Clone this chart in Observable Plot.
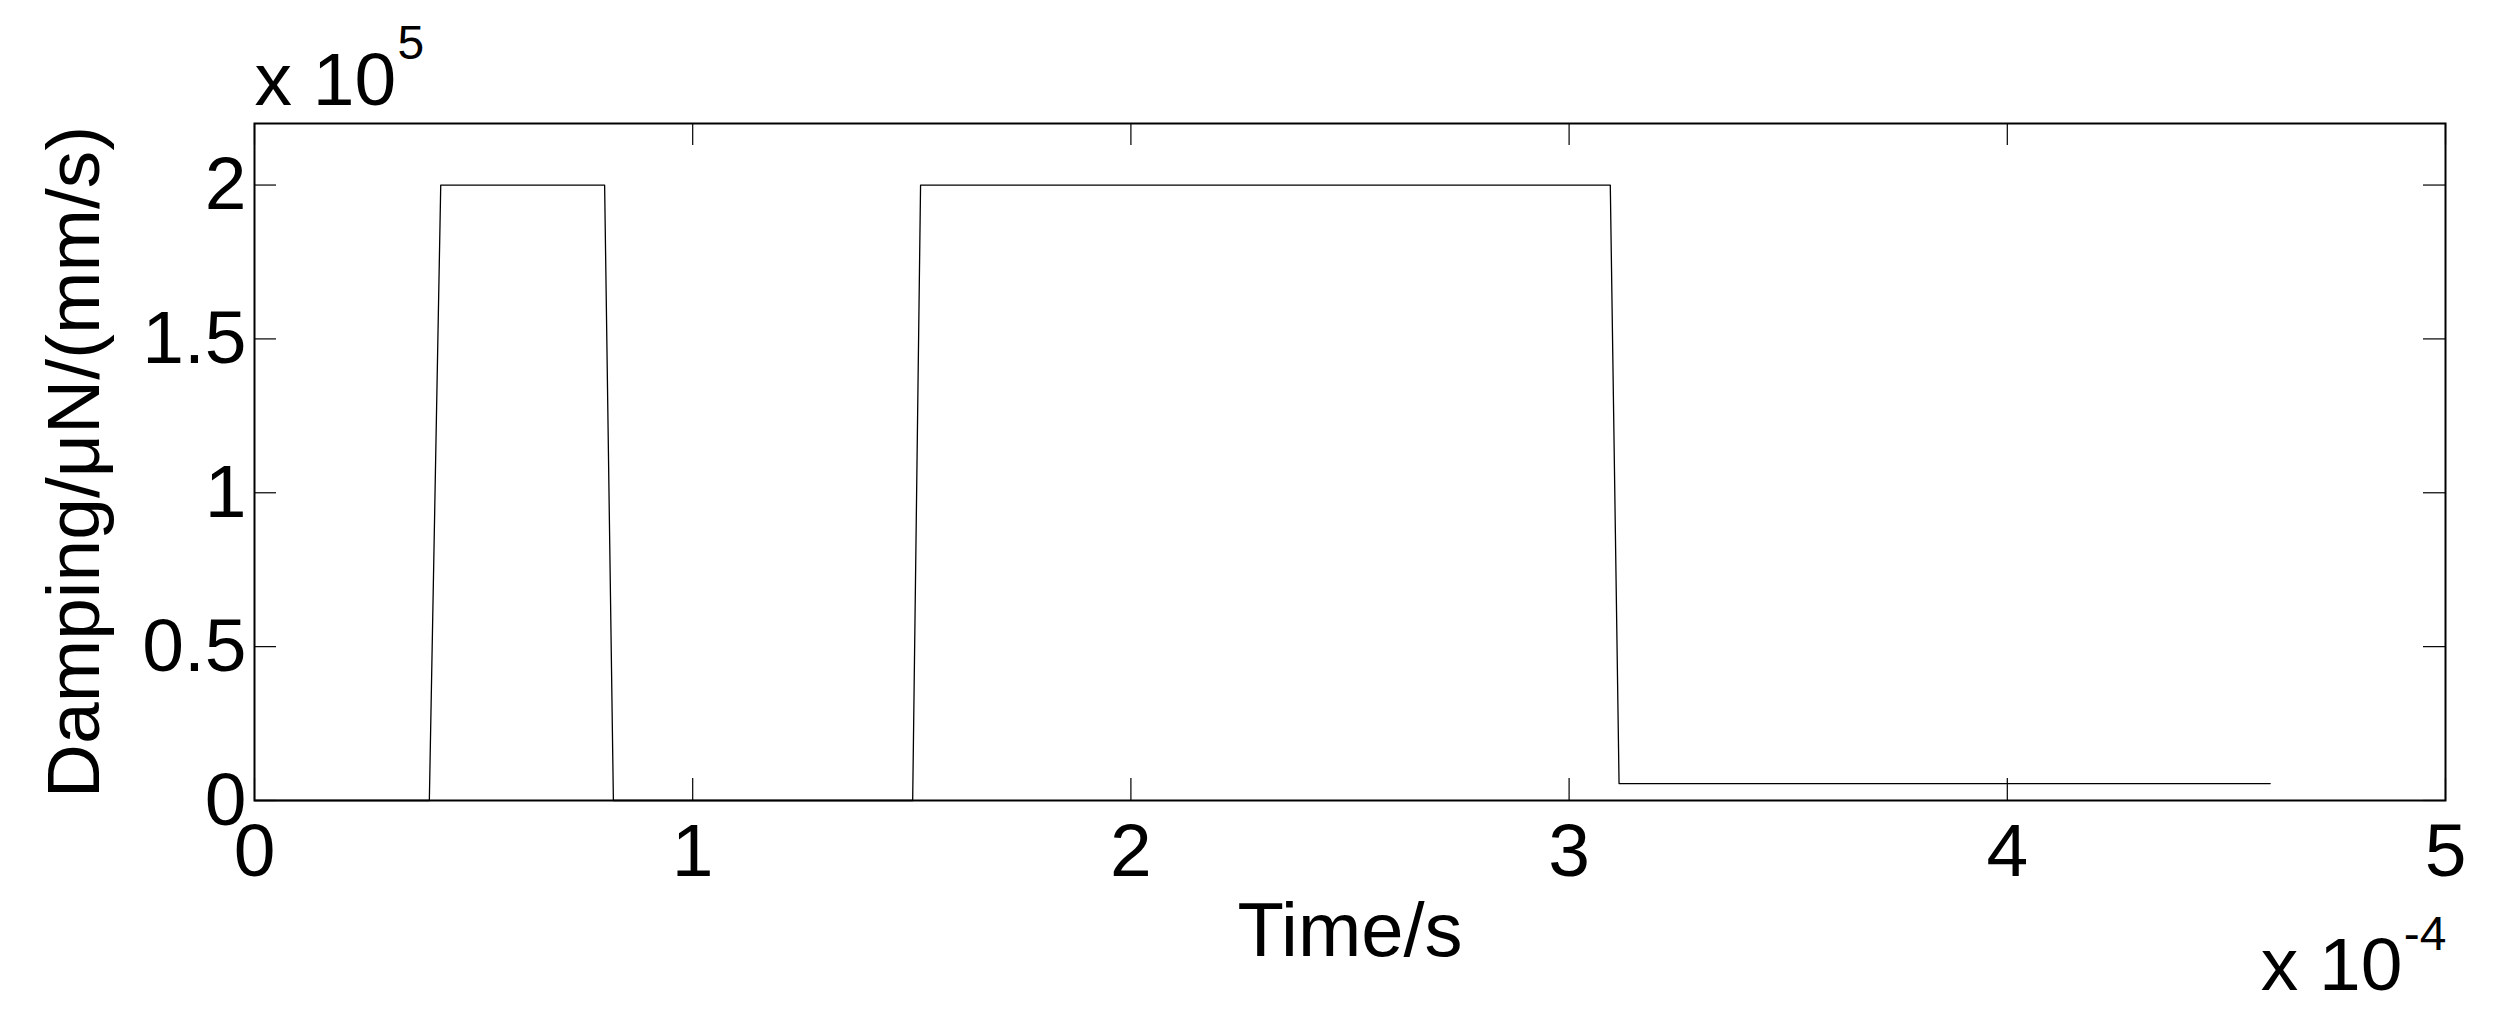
<!DOCTYPE html>
<html>
<head>
<meta charset="utf-8">
<script src="https://cdn.jsdelivr.net/npm/d3@7"></script>
<script src="https://cdn.jsdelivr.net/npm/@observablehq/plot@0.6"></script>
<style>
html, body { margin: 0; padding: 0; background: #ffffff; }
#chart svg { display: block; }
</style>
</head>
<body>
<div id="chart"></div>
<script>
// Time in units of 1e-4 s, damping in units of 1e5 µN/(mm/s)
const time    = [0, 0.399, 0.425, 0.799, 0.819, 1.502, 1.520, 3.094, 3.114, 4.600];
const damping = [0, 0,     2,     2,     0,     0,     2,     2,     0.055, 0.055];

const xTicks = [0, 1, 2, 3, 4, 5];
const xTickLabels = ["0", "1", "2", "3", "4", "5"];
const yTicks = [0, 0.5, 1, 1.5, 2];
const yTickLabels = ["0", "0.5", "1", "1.5", "2"];

const xLabel = "Time/s";
const yLabel = "Damping/μN/(mm/s)";
const multText = "x 10";
const yExponent = "5";
const xExponent = "-4";

const W = 2496, H = 1030;
const mL = 254, mR = 51, mT = 123, mB = 230;
const pw = W - mL - mR, ph = H - mT - mB;
const tickLen = 22;

const rows = time.map((t, i) => ({t, v: damping[i]}));

const chart = Plot.plot({
  width: W,
  height: H,
  marginLeft: mL,
  marginRight: mR,
  marginTop: mT,
  marginBottom: mB,
  style: {
    fontFamily: "'Liberation Sans', Arial, sans-serif",
    fontSize: "75px",
    background: "#ffffff",
    color: "#000000"
  },
  x: {domain: [0, 5]},
  y: {domain: [0, 2.2]},
  marks: [
    Plot.line(rows, {x: "t", y: "v", stroke: "#000", strokeWidth: 1.3}),
    Plot.tickX(xTicks, {x: d => d, insetTop: ph - tickLen, stroke: "#000", strokeWidth: 1.2}),
    Plot.tickX(xTicks, {x: d => d, insetBottom: ph - tickLen, stroke: "#000", strokeWidth: 1.2}),
    Plot.tickY(yTicks, {y: d => d, insetRight: pw - tickLen, stroke: "#000", strokeWidth: 1.2}),
    Plot.tickY(yTicks, {y: d => d, insetLeft: pw - tickLen, stroke: "#000", strokeWidth: 1.2}),
    Plot.frame({stroke: "#000", strokeWidth: 2}),
    Plot.axisX(xTicks, {tickSize: 0, tickPadding: 22, label: null, tickFormat: d => xTickLabels[xTicks.indexOf(d)]}),
    Plot.axisY(yTicks, {tickSize: 0, tickPadding: 8, label: null, tickFormat: d => yTickLabels[yTicks.indexOf(d)]}),
    Plot.text([yLabel], {text: d => d, frameAnchor: "left", rotate: -90, dx: -156, lineAnchor: "bottom", textAnchor: "middle", fontSize: 75}),
    Plot.text([xLabel], {text: d => d, frameAnchor: "bottom", lineAnchor: "bottom", dy: 155, textAnchor: "middle", fontSize: 76}),
    Plot.text([multText], {text: d => d, frameAnchor: "top-left", textAnchor: "start", lineAnchor: "bottom", dy: -19, fontSize: 75}),
    Plot.text([yExponent], {text: d => d, frameAnchor: "top-left", textAnchor: "start", lineAnchor: "bottom", dx: 143, dy: -65, fontSize: 48}),
    Plot.text([multText], {text: d => d, frameAnchor: "bottom-right", textAnchor: "end", lineAnchor: "bottom", dx: -43, dy: 189, fontSize: 75}),
    Plot.text([xExponent], {text: d => d, frameAnchor: "bottom-right", textAnchor: "end", lineAnchor: "bottom", dx: 1, dy: 149, fontSize: 48})
  ]
});

document.getElementById("chart").appendChild(chart);
</script>
</body>
</html>
